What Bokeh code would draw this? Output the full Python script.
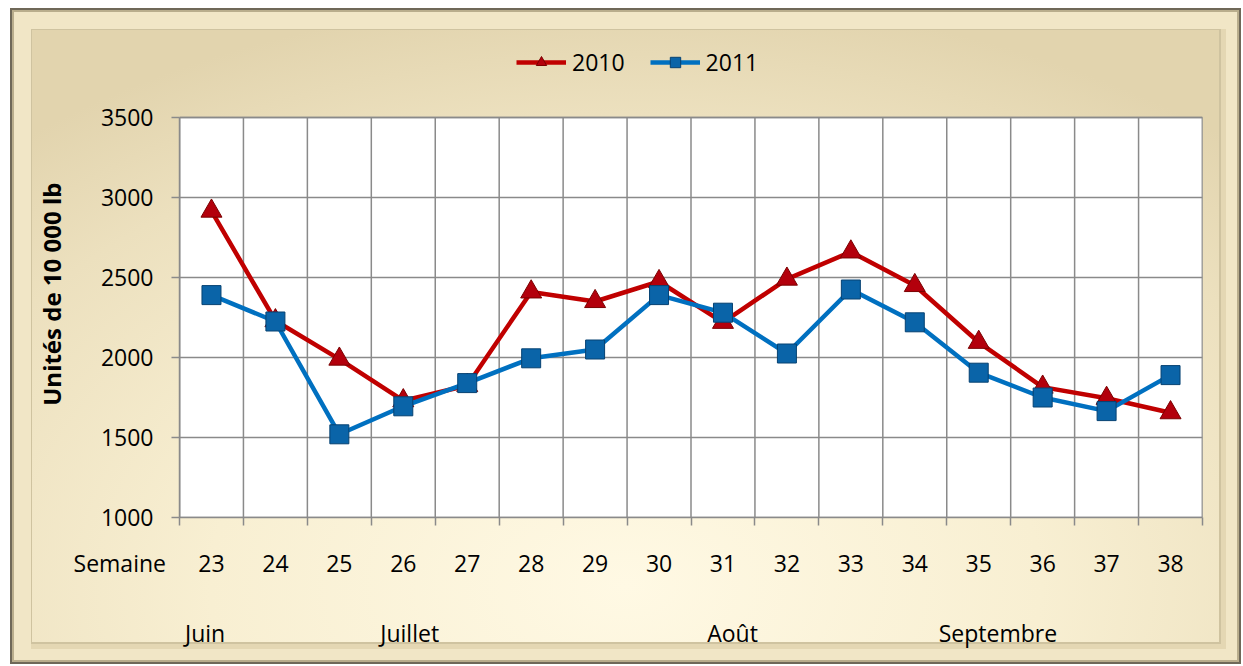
import math
from bokeh.plotting import figure
from bokeh.models import FixedTicker, Legend, LegendItem, Range1d, LinearAxis
from bokeh.embed import file_html
from bokeh.resources import INLINE

weeks = [23, 24, 25, 26, 27, 28, 29, 30, 31, 32, 33, 34, 35, 36, 37, 38]
units_2010 = [2915, 2230, 1990, 1730, 1825, 2410, 2350, 2475, 2220, 2490, 2660, 2450, 2095, 1815, 1745, 1655]
units_2011 = [2390, 2225, 1520, 1695, 1840, 1995, 2050, 2390, 2280, 2025, 2425, 2220, 1905, 1750, 1665, 1890]
y_ticks = [1000, 1500, 2000, 2500, 3000, 3500]
months = ["Juin", "Juillet", "Août", "Septembre"]
month_anchor = [22.9, 26.1, 31.15, 35.3]
series_names = ["2010", "2011"]
x_title = "Semaine"
y_title = "Unités de 10 000 lb"

FONT = "Open Sans"
W, H = 1231, 656
GRID = "#8a8a8a"

y_lo, y_hi = y_ticks[0], y_ticks[-1]
# headroom above the plot area holds the legend (same scale as the data)
y_room = y_hi + 525

p = figure(width=W, height=H, output_backend="svg", toolbar_location=None,
           x_range=Range1d(weeks[0] - 0.5, weeks[-1] + 0.5),
           y_range=Range1d(y_lo, y_room),
           min_border_left=169, min_border_right=39, min_border_top=25, min_border_bottom=147)

p.border_fill_color = None
p.background_fill_color = None
p.outline_line_color = None
p.styles = {
    "margin-left": "10px",
    "margin-top": "8px",
    "background": "radial-gradient(ellipse 75% 90% at 50% 88%, #FFF9E4 0%, #F8EFD2 45%, #ECE0BE 80%, #E2D4AE 100%)",
    "box-shadow": "inset 0 0 0 2px #6f6858, inset 0 0 0 4px #b9ad8c, inset 3px 3px 0 18px #F1E6C6, inset 0 0 0 20px #E4D7B3, inset 0 0 0 22px #cfc3a0",
}

left_edge = weeks[0] - 0.5
right_edge = weeks[-1] + 0.5
boundaries = [w - 0.5 for w in weeks] + [right_edge]

# white plot area
p.quad(left=[left_edge], right=[right_edge], bottom=[y_lo], top=[y_hi],
       fill_color="white", line_color=GRID, line_width=1.5, level="image")

# grid
p.xgrid.visible = False
p.ygrid.ticker = FixedTicker(ticks=y_ticks)
p.ygrid.grid_line_color = GRID
p.ygrid.grid_line_width = 1.5
p.segment(x0=boundaries, y0=[y_lo] * len(boundaries), x1=boundaries, y1=[y_hi] * len(boundaries),
          line_color=GRID, line_width=1.5, level="underlay")

# week axis (the left-edge tick carries the "Semaine" caption, padded so it ends left of the axis)
xa = p.xaxis[0]
xa.ticker = FixedTicker(ticks=[left_edge] + weeks, minor_ticks=boundaries)
xa.major_label_overrides = {left_edge: x_title + "\u00a0" * 20}
xa.major_tick_out = 0
xa.major_tick_in = 0
xa.minor_tick_out = 8
xa.minor_tick_in = 0
xa.minor_tick_line_color = GRID
xa.minor_tick_line_width = 1.5
xa.axis_line_color = GRID
xa.axis_line_width = 1.5
xa.major_label_text_font = FONT
xa.major_label_text_font_size = "23px"
xa.major_label_text_color = "black"
xa.major_label_standoff = 21

# month axis
ma = LinearAxis(ticker=FixedTicker(ticks=month_anchor, minor_ticks=[]),
                major_label_overrides={pos: name for pos, name in zip(month_anchor, months)})
ma.axis_line_color = None
ma.major_tick_out = 0
ma.major_tick_in = 0
ma.minor_tick_out = 0
ma.minor_tick_in = 0
ma.major_label_text_font = FONT
ma.major_label_text_font_size = "23px"
ma.major_label_text_color = "black"
ma.major_label_standoff = 35
p.add_layout(ma, "below")

ya = p.yaxis[0]
ya.ticker = FixedTicker(ticks=y_ticks)
ya.bounds = (y_lo, y_hi)
ya.minor_tick_out = 0
ya.minor_tick_in = 0
ya.major_tick_out = 8
ya.major_tick_in = 0
ya.major_tick_line_color = GRID
ya.major_tick_line_width = 1.5
ya.axis_line_color = GRID
ya.axis_line_width = 1.5
ya.major_label_text_font = FONT
ya.major_label_text_font_size = "23px"
ya.major_label_text_color = "black"
ya.major_label_standoff = 18
# trailing no-break spaces nudge the rotated title down to sit like the original
ya.axis_label = y_title + "\u00a0" * 6
ya.axis_label_text_font = FONT
ya.axis_label_text_font_size = "24px"
ya.axis_label_text_font_style = "bold"
ya.axis_label_text_color = "black"
ya.axis_label_standoff = 30

# series
l1 = p.line(weeks, units_2010, line_color="#C00000", line_width=4.5)
m1 = p.scatter(weeks, units_2010, marker="triangle", size=21,
               fill_color="#B3000C", line_color="#7A0000", line_width=1)
l2 = p.line(weeks, units_2011, line_color="#0070C0", line_width=4.5)
m2 = p.scatter(weeks, units_2011, marker="square", size=19,
               fill_color="#0A64A8", line_color="#064272", line_width=1)

legend = Legend(items=[LegendItem(label=series_names[0], renderers=[l1, m1]),
                       LegendItem(label=series_names[1], renderers=[l2, m2])],
                orientation="horizontal", location=(337, 439),
                background_fill_alpha=0, border_line_alpha=0,
                label_text_font=FONT, label_text_font_size="23px",
                label_text_color="black",
                glyph_width=50, glyph_height=26, spacing=25, padding=0,
                label_standoff=6)
p.add_layout(legend, "center")

open("out.html", "w").write(file_html(p, INLINE))
